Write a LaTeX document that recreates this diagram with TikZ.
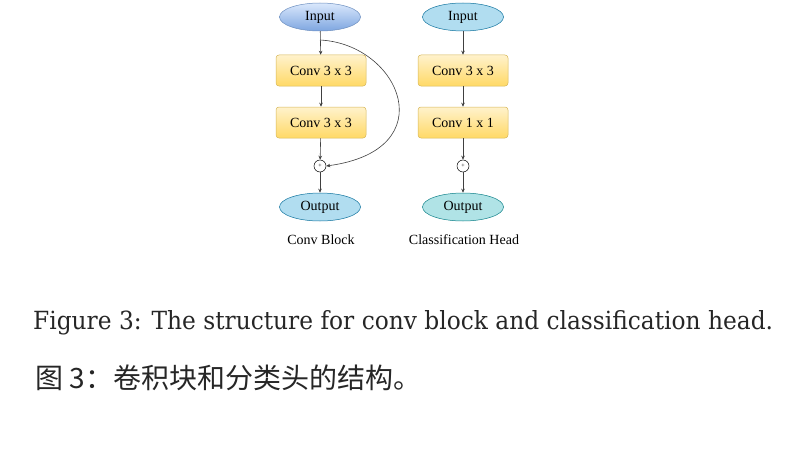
\documentclass[tikz,border=0pt]{standalone}
\usepackage{fontspec}
\setmainfont{Liberation Serif}
\newfontfamily\capfont{DejaVu Serif}
\newfontfamily\cjkfont{Noto Sans CJK SC}
\usetikzlibrary{shapes.geometric,arrows.meta}
\definecolor{yfill1}{HTML}{FFF2CC}
\definecolor{yfill2}{HTML}{FFD966}
\definecolor{yline}{HTML}{D6B656}
\definecolor{bfill1}{HTML}{DAE8FC}
\definecolor{bfill2}{HTML}{7EA6E0}
\definecolor{bline}{HTML}{6C8EBF}
\definecolor{lbfill}{HTML}{B1DDF0}
\definecolor{lbline}{HTML}{10739E}
\definecolor{tfill}{HTML}{B0E3E6}
\definecolor{tline}{HTML}{0E8088}
\begin{document}
\begin{tikzpicture}[x=1pt,y=-1pt,
  every node/.style={font=\fontsize{14}{16}\selectfont, text=black},
  convbox/.style={draw=yline, rounded corners=3pt, top color=yfill1, bottom color=yfill2,
    minimum width=90pt, minimum height=31pt, inner sep=0pt, line width=0.5pt},
  ioell/.style={ellipse, minimum width=81pt, minimum height=28pt, inner sep=0pt, line width=0.5pt},
  plusnode/.style={circle, draw=black, fill=white, minimum size=12pt, inner sep=0pt, line width=0.5pt,
    font=\fontsize{6}{6}\selectfont},
  conn/.style={draw=black!75, line width=0.6pt, -{Stealth[length=4pt,width=3.5pt]}},
  lbl/.style={font=\fontsize{14}{16}\selectfont}
]
\useasboundingbox (0,0) rectangle (811,452);
% left column
\node[ioell, draw=bline, top color=bfill1, bottom color=bfill2] (inA) at (320,17) {Input};
\node[convbox] (c1A) at (321,70.5) {Conv 3 x 3};
\node[convbox] (c2A) at (321,122.5) {Conv 3 x 3};
\node[plusnode] (pA) at (320,166) {+};
\node[ioell, draw=lbline, fill=lbfill] (outA) at (320,207) {Output};
\node[lbl] (labA) at (321,239.5) {Conv Block};
\coordinate (split) at (320,40);
\draw[conn] (inA) -- (c1A);
\draw[conn] (c1A) -- (c2A);
\draw[conn] (c2A) -- (pA);
\draw[conn] (pA) -- (outA);
\draw[conn] (split) .. controls (400,44) and (445,150) .. (pA.east);
% right column
\node[ioell, draw=lbline, fill=lbfill] (inB) at (463,17) {Input};
\node[convbox] (c1B) at (463,70.5) {Conv 3 x 3};
\node[convbox] (c2B) at (463,122.5) {Conv 1 x 1};
\node[plusnode] (pB) at (463,166) {+};
\node[ioell, draw=tline, fill=tfill] (outB) at (463,207) {Output};
\node[lbl] (labB) at (464,239.5) {Classification Head};
\draw[conn] (inB) -- (c1B);
\draw[conn] (c1B) -- (c2B);
\draw[conn] (c2B) -- (pB);
\draw[conn] (pB) -- (outB);
% captions
\node[anchor=base west, inner sep=0pt, font=\capfont\fontsize{25}{30}\selectfont, text=black!85] (capEN) at (33,329.5)
  {\scalebox{0.932}[1]{Figure 3: The structure for conv block and classification head.}};
\node[anchor=base west, inner sep=0pt, font=\cjkfont\fontsize{28}{30}\selectfont, text=black!85] (capZH) at (35,388)
  {图 3：卷积块和分类头的结构。};
\end{tikzpicture}
\end{document}
